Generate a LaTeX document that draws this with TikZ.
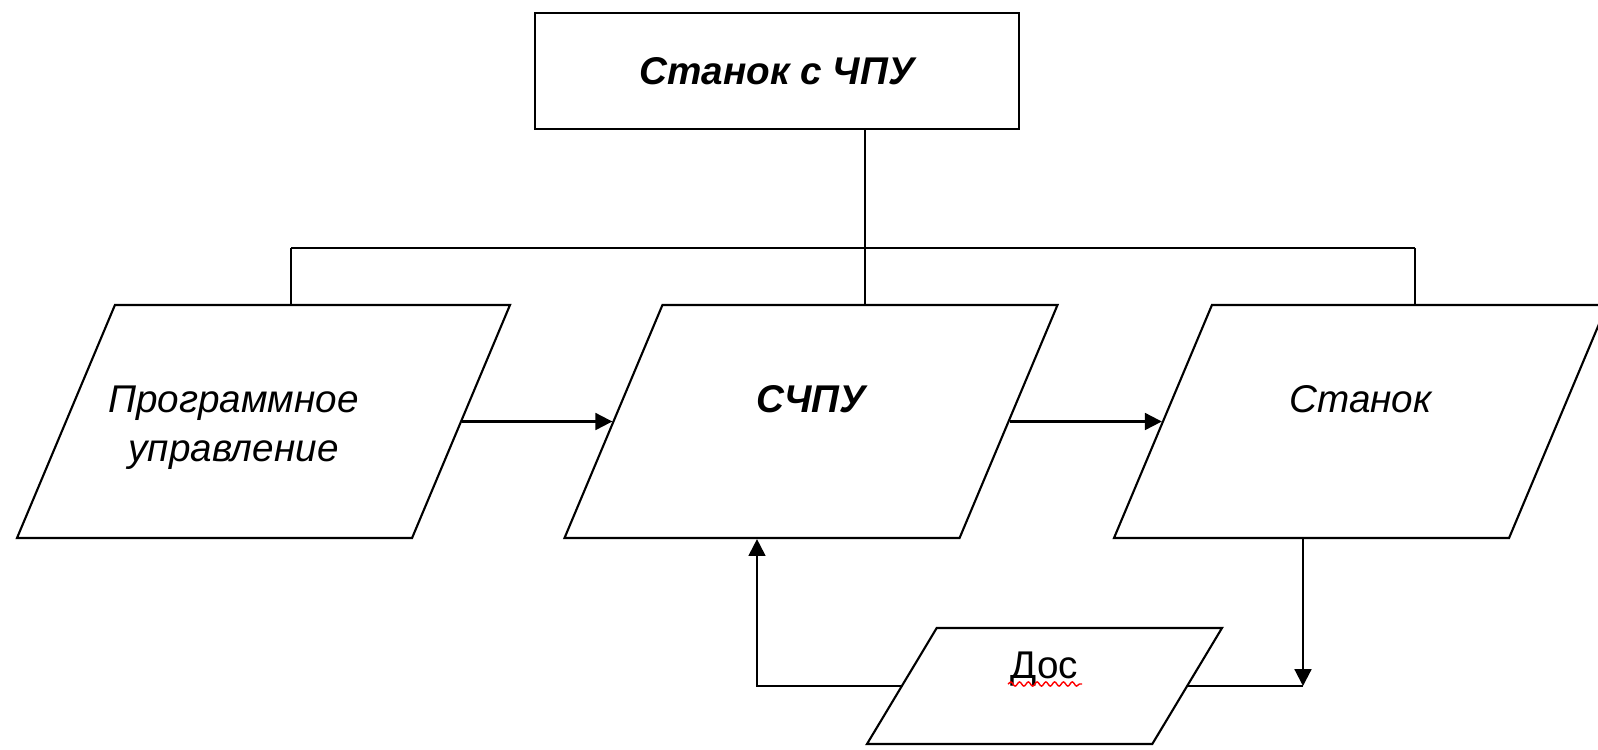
\documentclass[tikz,border=0pt]{standalone}
\usepackage{fontspec}
\setmainfont{Liberation Sans}
\usetikzlibrary{shapes.geometric, arrows.meta, decorations.pathmorphing}

\begin{document}
\begin{tikzpicture}[line width=0.6pt, >={Triangle[length=4.8pt, width=4.8pt]}]
        \tikzstyle{cnc_box}   = [shape = rectangle, draw = black, minimum width=4.84cm, minimum height=1.16cm, font=\fontsize{11}{14}\selectfont\bfseries\itshape]
        \tikzstyle{cnc_para}  = [shape = trapezium, draw = black, trapezium left angle=67.2, trapezium right angle=112.8, trapezium stretches body=true, minimum width=4.93cm, inner ysep=0pt, text height=1.07cm, text depth=1.26cm, font=\fontsize{11}{14}\selectfont\itshape]
        \tikzstyle{cnc_small} = [cnc_para, trapezium left angle=59, trapezium right angle=121, minimum width=3.55cm, text height=0.50cm, text depth=0.66cm, font=\fontsize{11}{14}\selectfont]

        \useasboundingbox (0,0) rectangle (15.98,7.49);
        \clip (0,0) rectangle (15.98,7.49);

        \node[cnc_box]   at (7.77,   6.78)  (cnc)   {Станок с ЧПУ};

        \node[cnc_para]  at (2.635,  3.275) (prog)  {\begin{tabular}[t]{@{\hspace{-6mm}}c@{}}Программное\\управление\end{tabular}};
        \node[cnc_para]  at (8.11,   3.275) (schpu) {\bfseries СЧПУ};
        \node[cnc_para]  at (13.605, 3.275) (mach)  {Станок};

        \node[cnc_small] at (10.445, 0.63)  (dos)   {Дос};

        \coordinate (bus_l) at (2.91,  5.01);
        \coordinate (bus_m) at (8.65,  5.01);
        \coordinate (bus_r) at (14.15, 5.01);
        \coordinate (back)  at (7.57,  0.0);
        \coordinate (down)  at (13.03, 0.0);

        \draw
          (bus_m |- cnc.south) -- (bus_m)
          (bus_l) -- (bus_r)
          (bus_l) -- (bus_l |- prog.north)
          (bus_m) -- (bus_m |- schpu.north)
          (bus_r) -- (bus_r |- mach.north)
          (dos.right side) -- (dos.right side -| down)
        ;

        \draw[->] (prog.right side) -- (schpu.left side);
        \draw[->] (schpu.right side) -- (mach.left side);
        \draw[->] (dos.left side) -- (dos.left side -| back) -- (back |- schpu.south);
        \draw[->] (down |- mach.south) -- (down |- dos.right side);

        % spelling mark under the label
        \draw[red, line width=0.4pt, decorate, decoration={snake, amplitude=0.6pt, segment length=2.5pt}]
          (10.08, 0.65) -- (10.82, 0.65);
      \end{tikzpicture}
\end{document}
